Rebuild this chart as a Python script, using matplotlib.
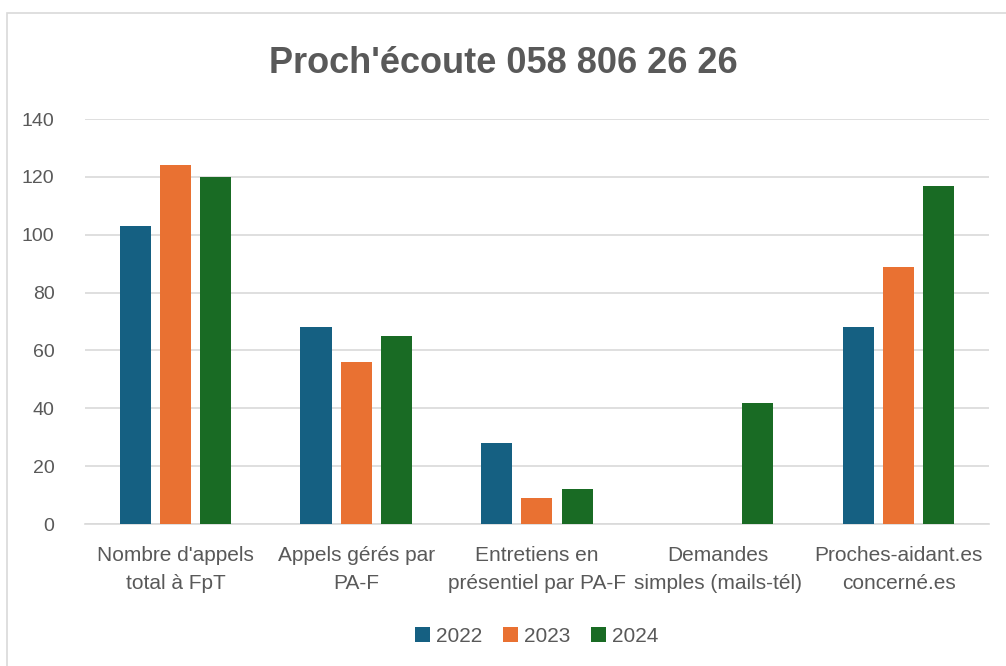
import matplotlib
matplotlib.use("Agg")
import matplotlib.pyplot as plt
import matplotlib.patches as mpatches
import numpy as np

categories = [
    "Nombre d'appels\ntotal à FpT",
    "Appels gérés par\nPA-F",
    "Entretiens en\nprésentiel par PA-F",
    "Demandes\nsimples (mails-tél)",
    "Proches-aidant.es\nconcerné.es",
]
years = ["2022", "2023", "2024"]
v2022 = [103, 68, 28, 0, 68]
v2023 = [124, 56, 9, 0, 89]
v2024 = [120, 65, 12, 42, 117]
colors = ["#156082", "#E97132", "#196B24"]

text_color = "#595959"
plt.rcParams["font.family"] = ["Liberation Sans", "DejaVu Sans"]

fig = plt.figure(figsize=(10.06, 6.66), dpi=100)
fig.patch.set_facecolor("white")
# cadre gris clair autour du graphique (bas et droite hors image)
fig.patches.append(mpatches.Rectangle((7 / 1006, -0.1), 1.2, 1.1 - 13 / 666,
                                      transform=fig.transFigure, fill=False,
                                      edgecolor="#d9d9d9", linewidth=1.2))

ax = fig.add_axes([0.0845, 0.2132, 0.8985, 0.6081])
x = np.arange(len(categories))
width = 0.172
step = 0.222
for i, (vals, c, lab) in enumerate(zip([v2022, v2023, v2024], colors, years)):
    ax.bar(x + (i - 1) * step, vals, width=width, color=c, label=lab, zorder=3)

ax.set_xlim(-0.5, len(categories) - 0.5)
ax.set_ylim(0, 140)
ax.set_yticks(range(0, 141, 20))
ax.grid(axis="y", color="#d9d9d9", linewidth=1.2, zorder=0)
for s in ["top", "right", "left"]:
    ax.spines[s].set_visible(False)
ax.spines["bottom"].set_color("#d9d9d9")
ax.spines["bottom"].set_linewidth(1.2)
ax.tick_params(axis="both", length=0, colors=text_color)
ax.tick_params(axis="y", pad=22, labelsize=14)
ax.tick_params(axis="x", pad=16, labelsize=15)
ax.set_xticks(x)
ax.set_xticklabels(categories, linespacing=1.6)

fig.text(0.5, 0.905, "Proch'écoute 058 806 26 26", ha="center", va="center",
         fontsize=26, fontweight="bold", color=text_color)

ax.legend(loc="center", bbox_to_anchor=(0.5, 1 - (636 - 119) / 405),
          ncol=3, frameon=False, fontsize=15, labelcolor=text_color,
          handlelength=0.7, handleheight=0.7, handletextpad=0.3, columnspacing=1.0)

fig.savefig("out.png", dpi=100)
